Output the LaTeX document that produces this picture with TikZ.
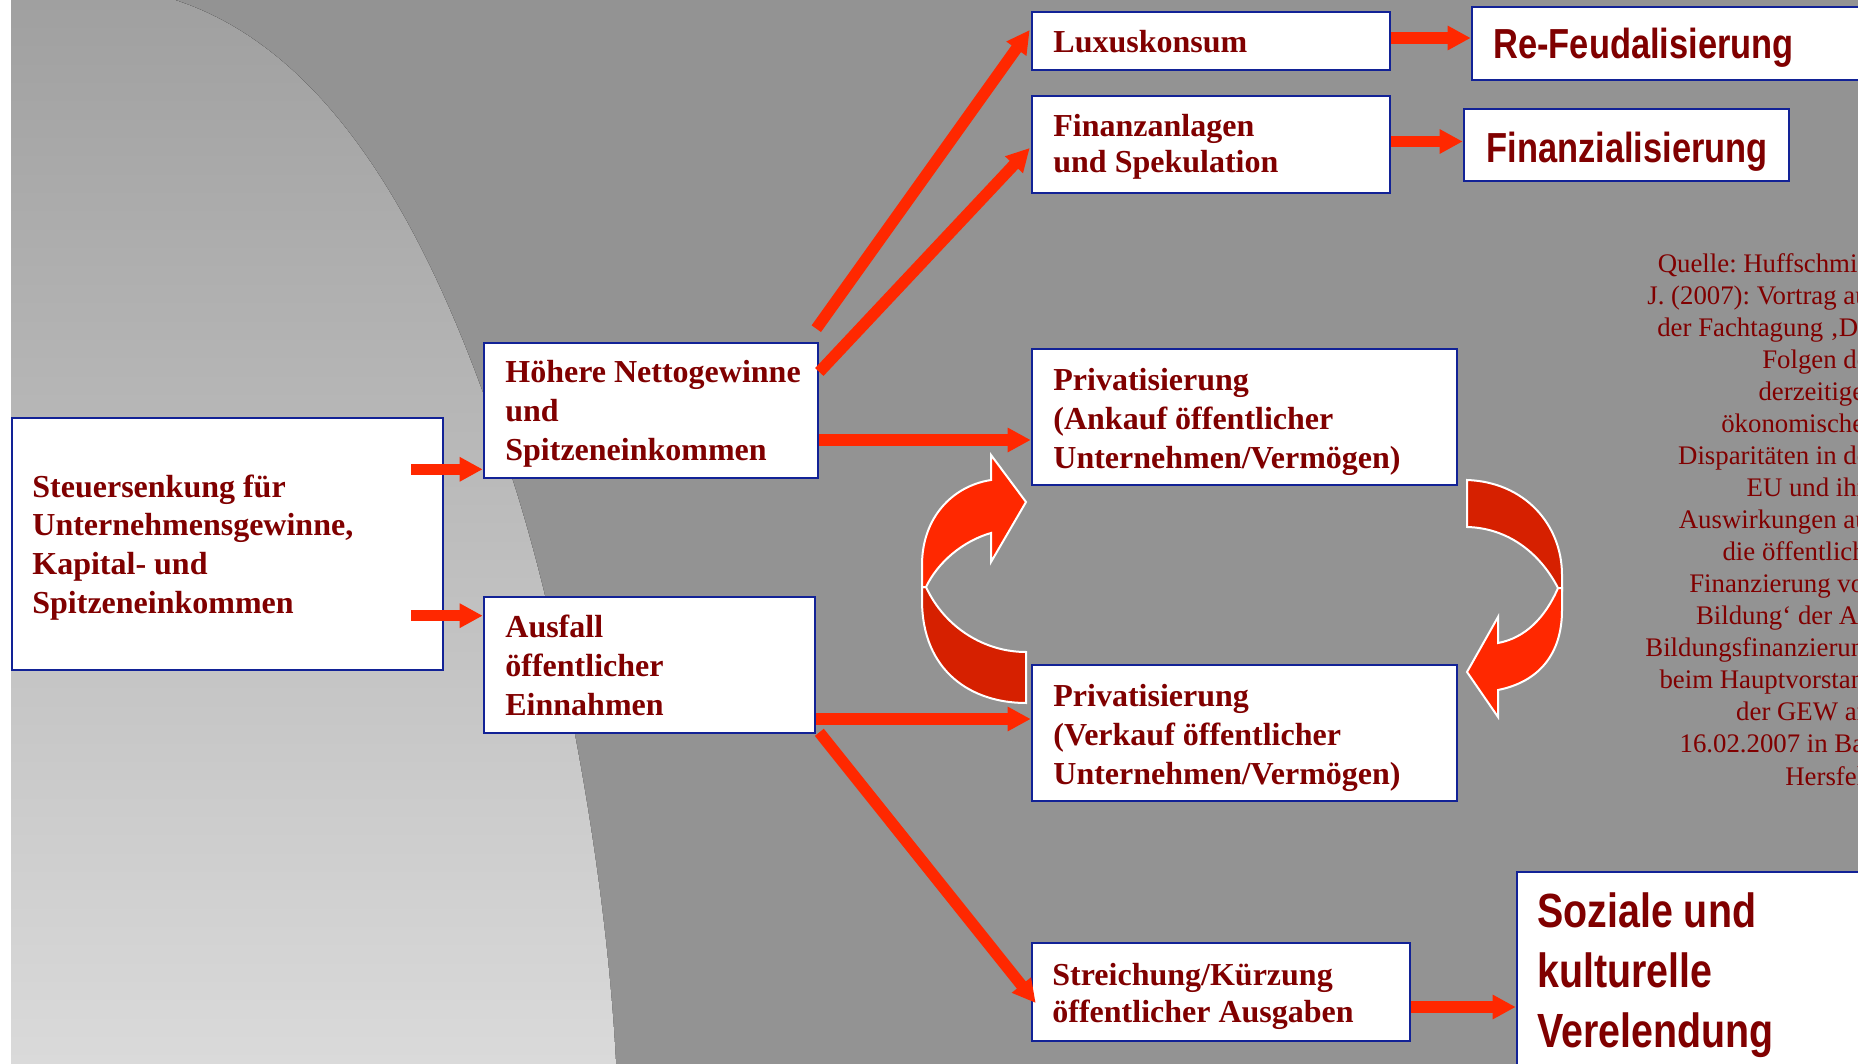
\documentclass[tikz,border=0pt]{standalone}
\usepackage{fontspec}
\setmainfont{Liberation Serif}
\newfontfamily\narrowsans[FakeStretch=0.82]{Liberation Sans Bold}
\usetikzlibrary{arrows.meta,calc}
\definecolor{bggray}{RGB}{147,147,147}
\definecolor{lighttop}{RGB}{160,160,160}
\definecolor{lightbot}{RGB}{218,218,218}
\definecolor{boxblue}{RGB}{18,34,150}
\definecolor{txtred}{RGB}{128,0,0}
\definecolor{arrred}{RGB}{255,40,0}
\definecolor{darkred}{RGB}{214,32,0}
\frenchspacing
\begin{document}
\begin{tikzpicture}[x=0.5pt,y=-0.5pt,
  bx/.style={draw=boxblue,line width=1.3pt,fill=white,inner sep=0pt},
  sertxt/.style={anchor=base west,align=left,inner sep=0pt,text=txtred,
    font=\bfseries\fontsize{16}{19.3}\selectfont},
  sanstxt/.style={anchor=base west,align=left,inner sep=0pt,text=txtred,
    font=\narrowsans\fontsize{21}{26}\selectfont},
  arr/.style={draw=arrred,line width=5.75pt,-{Triangle[length=11.5pt,width=11.5pt]}},
  curvfront/.style={fill=arrred,draw=white,line width=1pt,line join=miter},
  curvback/.style={fill=darkred,draw=white,line width=1pt,line join=miter}]
\useasboundingbox (0,0) rectangle (1858,1064);
\clip (0,0) rectangle (1858,1064);
% background
\fill[bggray] (0,0) rectangle (1858,1064);
\fill[top color=lighttop,bottom color=lightbot]
  (11,0) -- (175,0) .. controls (360,60) and (455,300) .. (512,478)
  .. controls (555,610) and (605,850) .. (616,1064) -- (11,1064) -- cycle;
\fill[white] (0,0) rectangle (11,1064);
% source text (base anchor = last line)
\node[anchor=base east,align=right,inner sep=0pt,text=txtred,
  font=\fontsize{13.4}{16.03}\selectfont] (quelle) at (1878,785)
  {Quelle: Huffschmid,\\J. (2007): Vortrag auf\\der Fachtagung ‚Die\\Folgen der\\derzeitigen\\ökonomischen\\Disparitäten in der\\EU und ihre\\Auswirkungen auf\\die öffentliche\\Finanzierung von\\Bildung‘ der AG\\Bildungsfinanzierung\\beim Hauptvorstand\\der GEW am\\16.02.2007 in Bad\\Hersfeld};
% boxes
\node[bx,minimum width=215.5pt,minimum height=126pt] (steuer) at (227.5,544) {};
\node[bx,minimum width=167pt,minimum height=67.5pt] (hoehere) at (651,410.5) {};
\node[bx,minimum width=165.5pt,minimum height=68pt] (ausfall) at (649.5,665) {};
\node[bx,minimum width=179pt,minimum height=29pt] (luxus) at (1211,41) {};
\node[bx,minimum width=179pt,minimum height=48.5pt] (finanz) at (1211,144.5) {};
\node[bx,minimum width=224pt,minimum height=36.5pt] (refeud) at (1696,43.5) {};
\node[bx,minimum width=162.5pt,minimum height=36pt] (finzial) at (1626.5,145) {};
\node[bx,minimum width=212.5pt,minimum height=68pt] (ankauf) at (1244.5,417) {};
\node[bx,minimum width=212.5pt,minimum height=68pt] (verkauf) at (1244.5,733) {};
\node[bx,minimum width=189pt,minimum height=49pt] (streich) at (1221,992) {};
\node[bx,minimum width=201.5pt,minimum height=124pt] (soziale) at (1718.5,996) {};
% texts (base anchor = baseline of the last line)
\node[sertxt] (steuer-t) at (32,613) {Steuersenkung für\\Unternehmensgewinne,\\Kapital- und\\Spitzeneinkommen};
\node[sertxt] (hoehere-t) at (505,460) {Höhere Nettogewinne\\und\\Spitzeneinkommen};
\node[sertxt] (ausfall-t) at (505,715) {Ausfall\\öffentlicher\\Einnahmen};
\node[sertxt] (luxus-t) at (1053,53) {Luxuskonsum};
\node[sertxt,font=\bfseries\fontsize{16}{18.3}\selectfont] (finanz-t) at (1053,173) {Finanzanlagen\\und Spekulation};
\node[sertxt] (ankauf-t) at (1053,468) {Privatisierung\\(Ankauf öffentlicher\\Unternehmen/Vermögen)};
\node[sertxt] (verkauf-t) at (1053,784) {Privatisierung\\(Verkauf öffentlicher\\Unternehmen/Vermögen)};
\node[sertxt,font=\bfseries\fontsize{16}{18.5}\selectfont] (streich-t) at (1052,1022) {Streichung/Kürzung\\öffentlicher Ausgaben};
\node[sanstxt] (refeud-t) at (1493,59) {Re-Feudalisierung};
\node[sanstxt] (finzial-t) at (1486,163) {Finanzialisierung};
\node[sanstxt,font=\narrowsans\fontsize{24}{29.8}\selectfont] (soziale-t) at (1537,1047) {Soziale und\\kulturelle\\Verelendung};
% straight arrows
\coordinate (e1) at ($(hoehere.south west)+(0,-10)$);
\coordinate (e2) at ($(ausfall.north west)+(0,20)$);
\draw[arr] ($(steuer.east|-e1)+(-33,0)$) -- (e1);
\draw[arr] ($(steuer.east|-e2)+(-33,0)$) -- (e2);
\coordinate (s3) at ($(hoehere.east)+(0,29.5)$);
\coordinate (s4) at ($(ausfall.east)+(0,54)$);
\draw[arr] (s3) -- (s3-|ankauf.west);
\draw[arr] (s4) -- (s4-|verkauf.west);
\draw[arr] ($(hoehere.north east)+(-3,-13)$) -- ($(luxus.west)+(-1,-11)$);
\draw[arr] ($(hoehere.east)+(0,-38.5)$) -- ($(finanz.west)+(-1,3.5)$);
\draw[arr] ($(ausfall.south east)+(3,-2)$) -- ($(streich.west)+(5,11)$);
\coordinate (s8) at ($(luxus.east)+(0,-3)$);
\coordinate (s9) at ($(finanz.east)+(0,-3)$);
\coordinate (s10) at ($(streich.east)+(0,15)$);
\draw[arr] (s8) -- (s8-|refeud.west);
\draw[arr] (s9) -- (s9-|finzial.west);
\draw[arr] (s10) -- (s10-|soziale.west);
% curved arrows (left)
\path[curvback] (926,587) -- (922,587) -- (922,600)
  .. controls (922,672) and (972,703) .. (1026,703) -- (1026,652)
  .. controls (985,652) and (945,628) .. (926,587) -- cycle;
\path[curvfront] (991,455) -- (1026,502) -- (991,562) -- (991,533)
  .. controls (963,541) and (938,562) .. (926,587) -- (922,587) -- (922,565)
  .. controls (922,518) and (952,486) .. (991,480) -- cycle;
% curved arrows (right)
\path[curvback] (1467,480) .. controls (1525,482) and (1562,525) .. (1562,575)
  -- (1562,590) -- (1558,588)
  .. controls (1540,553) and (1508,528) .. (1467,527) -- cycle;
\path[curvfront] (1558,588) .. controls (1545,618) and (1525,638) .. (1498,643)
  -- (1498,617) -- (1467,672) -- (1498,717) -- (1498,690)
  .. controls (1538,682) and (1562,655) .. (1562,610) -- (1562,588) -- cycle;
\end{tikzpicture}
\end{document}
